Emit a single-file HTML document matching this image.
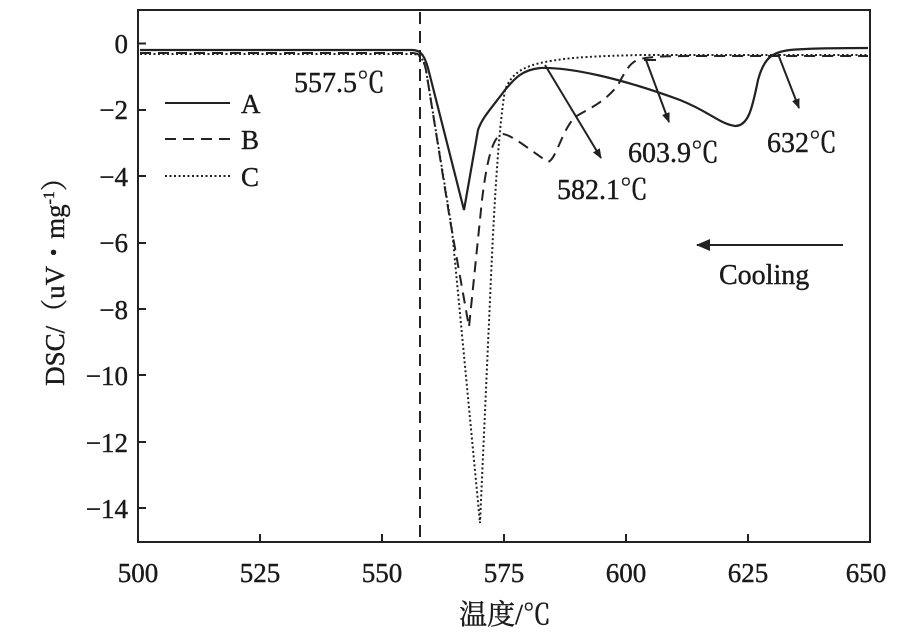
<!DOCTYPE html>
<html><head><meta charset="utf-8"><style>
html,body{margin:0;padding:0;background:#fff;}
svg{display:block;font-family:"Liberation Serif","Noto Serif CJK SC",serif;}
</style></head><body>
<svg width="900" height="635" viewBox="0 0 900 635" xmlns="http://www.w3.org/2000/svg">
<defs><marker id="ah" markerWidth="10" markerHeight="10" refX="9" refY="5" orient="auto" markerUnits="userSpaceOnUse"><path d="M0,1 L10,5 L0,9 Z" fill="#222"/></marker>
<marker id="ah2" markerWidth="14" markerHeight="12" refX="13" refY="6" orient="auto" markerUnits="userSpaceOnUse"><path d="M0,0 L14,6 L0,12 Z" fill="#222"/></marker></defs>
<rect x="138" y="10" width="732" height="532" fill="none" stroke="#222" stroke-width="2"/>
<g stroke="#222" stroke-width="2">
<line x1="138" y1="43.5" x2="146" y2="43.5"/><line x1="138" y1="110" x2="146" y2="110"/><line x1="138" y1="176" x2="146" y2="176"/><line x1="138" y1="243" x2="146" y2="243"/><line x1="138" y1="309" x2="146" y2="309"/><line x1="138" y1="375" x2="146" y2="375"/><line x1="138" y1="442" x2="146" y2="442"/><line x1="138" y1="508" x2="146" y2="508"/>
<line x1="260" y1="542" x2="260" y2="534"/><line x1="382" y1="542" x2="382" y2="534"/><line x1="504" y1="542" x2="504" y2="534"/><line x1="626" y1="542" x2="626" y2="534"/><line x1="748" y1="542" x2="748" y2="534"/>
</g>
<g font-size="27" fill="#1a1a1a" text-anchor="end" stroke="#1a1a1a" stroke-width="0.4">
<text x="128" y="53">0</text><text x="128" y="119">−2</text><text x="128" y="186">−4</text><text x="128" y="252">−6</text><text x="128" y="319">−8</text><text x="128" y="385">−10</text><text x="128" y="452">−12</text><text x="128" y="518">−14</text>
</g>
<g font-size="27" fill="#1a1a1a" text-anchor="middle" stroke="#1a1a1a" stroke-width="0.4">
<text x="138" y="582">500</text><text x="260" y="582">525</text><text x="382" y="582">550</text><text x="504" y="582">575</text><text x="626" y="582">600</text><text x="748" y="582">625</text><text x="866" y="582">650</text>
<text x="505" y="624" font-size="28">温度/℃</text>
</g>
<text transform="translate(64,275) rotate(-90)" font-size="27" fill="#1a1a1a" stroke="#1a1a1a" stroke-width="0.4" text-anchor="middle">DSC/（uV・mg<tspan dy="-10" font-size="16">-1</tspan><tspan dy="10">）</tspan></text>
<line x1="420" y1="12" x2="420" y2="542" stroke="#222" stroke-width="2" stroke-dasharray="12,7"/>
<path d="M140,54 L412,54 C420,54 423,58 426,70 L452,230 L480,523 L490,300 C495,180 500,120 505,90 C512,72 525,66 545,62 C570,57 600,56 640,55 L868,55" fill="none" stroke="#222" stroke-width="2" stroke-dasharray="2,2.5"/>
<path d="M140,53 L412,53 C420,53 423,57 426,70 L450,220 L469,327 L482,200 C488,150 495,135 503,134 C512,135 530,150 548,162 C556,160 562,130 575,117 C590,108 605,102 618,85 C626,70 630,62 640,59 C650,57 660,56 700,56 L868,56" fill="none" stroke="#222" stroke-width="2" stroke-dasharray="11,7"/>
<path d="M140,50 L412,50 C420,50 424,54 428,68 L464,210 L478,130 C482,118 490,110 505,90 C515,78 522,70 540,68 C570,67 620,78 680,100 C710,112 720,124 735,126 C748,126 752,110 758,80 C764,58 772,52 790,50 C810,48 840,48 868,48" fill="none" stroke="#222" stroke-width="2.2"/>
<line x1="165" y1="103" x2="230" y2="103" stroke="#222" stroke-width="2"/>
<line x1="165" y1="139" x2="230" y2="139" stroke="#222" stroke-width="2" stroke-dasharray="11,7"/>
<line x1="165" y1="176" x2="230" y2="176" stroke="#222" stroke-width="2" stroke-dasharray="2,2.5"/>
<g font-size="27" fill="#1a1a1a" stroke="#1a1a1a" stroke-width="0.4"><text x="241" y="113">A</text><text x="241" y="149">B</text><text x="241" y="186">C</text></g>
<g font-size="28" fill="#1a1a1a" stroke="#1a1a1a" stroke-width="0.4">
<text x="294" y="92">557.5℃</text>
<text x="557" y="199">582.1℃</text>
<text x="628" y="162">603.9℃</text>
<text x="767" y="152">632℃</text>
<text x="719" y="284">Cooling</text>
</g>
<g stroke="#222" stroke-width="2" fill="none">
<line x1="545" y1="65" x2="601" y2="158" marker-end="url(#ah)"/>
<line x1="644" y1="60" x2="656" y2="60"/>
<line x1="646" y1="60" x2="669" y2="122" marker-end="url(#ah)"/>
<line x1="778" y1="54" x2="799" y2="108" marker-end="url(#ah)"/>
<line x1="843" y1="245" x2="697" y2="245" marker-end="url(#ah2)"/>
</g>
</svg>
</body></html>
